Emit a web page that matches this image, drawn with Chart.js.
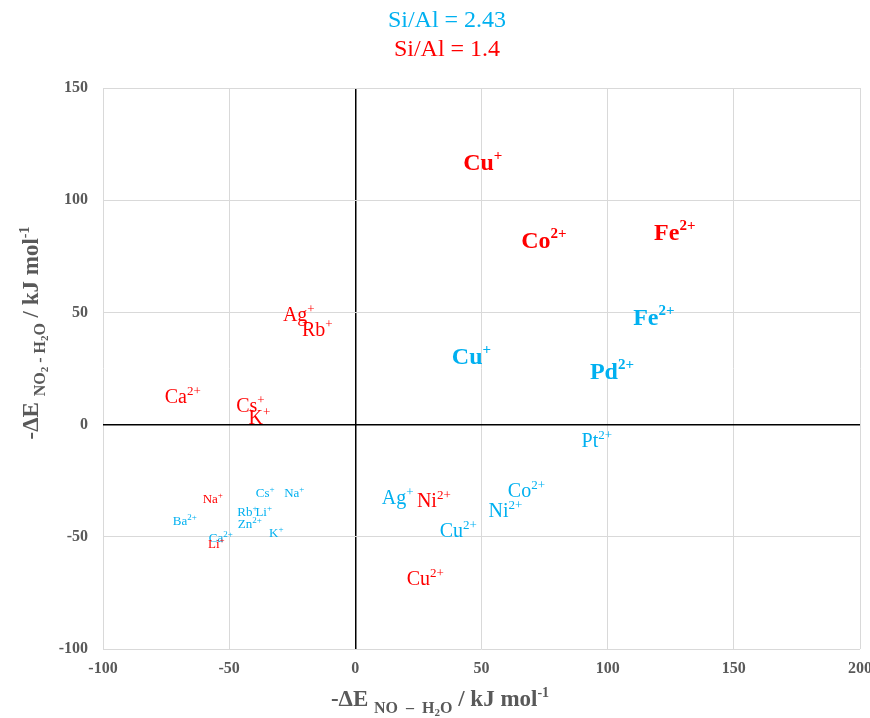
<!DOCTYPE html>
<html>
<head>
<meta charset="utf-8">
<script src="https://cdn.jsdelivr.net/npm/chart.js@4/dist/chart.umd.min.js"></script>
<style>
  html, body { margin: 0; padding: 0; background: #fff; }
  canvas { display: block; }
</style>
</head>
<body>
<canvas id="chart" width="870" height="718"></canvas>
<script>
/* ======================
   DATA
====================== */
// Si/Al = 1.4 (red)
const redIons   = ["Cu", "Co", "Fe", "Ag", "Rb", "Ca", "Cs", "K", "Na", "Li", "Ni", "Cu"];
const redCharge = ["+", "2+", "2+", "+", "+", "2+", "+", "+", "+", "+", "2+", "2+"];
const redX      = [50.5, 74.7, 126.6, -22.4, -15.1, -68.4, -41.6, -38, -56.5, -55.1, 31.1, 27.7];
const redY      = [116.8, 82.4, 85.6, 49.2, 42.6, 12.7, 8.7, 3.3, -33, -53, -33.9, -68.4];

// Si/Al = 2.43 (blue)
const blueIons   = ["Fe", "Cu", "Pd", "Pt", "Co", "Ni", "Ag", "Cu", "Cs", "Na", "Rb", "Li", "Zn", "K", "Ba", "Ca"];
const blueCharge = ["2+", "+", "2+", "2+", "2+", "2+", "+", "2+", "+", "+", "+", "+", "2+", "+", "2+", "2+"];
const blueX      = [118.3, 46, 101.7, 95.7, 67.8, 59.5, 16.8, 40.8, -35.7, -24.2, -42.8, -36.3, -41.8, -31.3, -67.6, -53.3];
const blueY      = [47.9, 30.7, 24, -7.1, -29.4, -38.3, -32.3, -47.2, -30.3, -30.3, -38.8, -38.8, -44.3, -48.1, -42.8, -50.4];

const xTicks = [-100, -50, 0, 50, 100, 150, 200];
const yTicks = [-100, -50, 0, 50, 100, 150];

/* ---------- label styles (kept apart from data) ---------- */
const redStyle  = ["bold", "bold", "bold", "mid", "mid", "mid", "mid", "mid", "small", "small", "mid", "mid"];
const blueStyle = ["bold", "bold", "bold", "mid", "mid", "mid", "mid", "mid",
                   "small", "small", "small", "small", "small", "small", "small", "small"];

const SERIF = '"Liberation Serif", "Times New Roman", serif';
const GRAY = "#595959";
const RED = "#ff0000";
const BLUE = "#00b0f0";

const STYLES = {
  bold:  { size: 24, sup: 15, rise: 10, weight: "bold" },
  mid:   { size: 20, sup: 13, rise: 8,  weight: "normal" },
  small: { size: 13, sup: 9,  rise: 5,  weight: "normal" }
};

/* ======================
   RICH TEXT HELPER
====================== */
// parts: [{t, size, dy, weight}] drawn on one baseline, centred at cx
function drawRich(ctx, parts, cx, baseY, color) {
  let total = 0;
  parts.forEach(p => {
    ctx.font = `${p.weight || "bold"} ${p.size}px ${SERIF}`;
    p.w = ctx.measureText(p.t).width;
    total += p.w;
  });
  let x = cx - total / 2;
  ctx.fillStyle = color;
  ctx.textBaseline = "alphabetic";
  ctx.textAlign = "left";
  parts.forEach(p => {
    ctx.font = `${p.weight || "bold"} ${p.size}px ${SERIF}`;
    ctx.fillText(p.t, x, baseY + (p.dy || 0));
    x += p.w;
  });
}

/* ======================
   PLUGINS
====================== */
const ionLabels = {
  id: "ionLabels",
  afterDatasetsDraw(chart) {
    const { ctx, scales: { x, y } } = chart;
    ctx.save();
    chart.data.datasets.forEach(ds => {
      ds.data.forEach((p, i) => {
        const st = STYLES[ds.styles[i]];
        const px = x.getPixelForValue(p.x);
        const py = y.getPixelForValue(p.y);
        drawRich(ctx, [
          { t: ds.ions[i], size: st.size, weight: st.weight },
          { t: ds.charges[i], size: st.sup, weight: st.weight, dy: -st.rise }
        ], px, py + st.size * 0.33, ds.textColor);
      });
    });
    ctx.restore();
  }
};

const titles = {
  id: "titles",
  afterDraw(chart) {
    const ctx = chart.ctx;
    ctx.save();
    ctx.textAlign = "center";
    ctx.textBaseline = "middle";
    ctx.font = `24px ${SERIF}`;
    ctx.fillStyle = BLUE;
    ctx.fillText("Si/Al = 2.43", 447, 21);
    ctx.fillStyle = RED;
    ctx.fillText("Si/Al = 1.4", 447, 50);

    // x axis title
    drawRich(ctx, [
      { t: "-ΔE ", size: 23 },
      { t: "NO  –  H", size: 16, dy: 7 },
      { t: "2", size: 11, dy: 10 },
      { t: "O", size: 16, dy: 7 },
      { t: " / kJ mol", size: 23 },
      { t: "-1", size: 14, dy: -9 }
    ], 440, 706, GRAY);

    // y axis title (rotated)
    ctx.translate(38, 333);
    ctx.rotate(-Math.PI / 2);
    drawRich(ctx, [
      { t: "-ΔE ", size: 23 },
      { t: "NO", size: 16, dy: 7 },
      { t: "2", size: 11, dy: 10 },
      { t: " - H", size: 16, dy: 7 },
      { t: "2", size: 11, dy: 10 },
      { t: "O", size: 16, dy: 7 },
      { t: " / kJ mol", size: 23 },
      { t: "-1", size: 14, dy: -9 }
    ], 0, 0, GRAY);
    ctx.restore();
  }
};

/* ======================
   CHART
====================== */
const toPoints = (xs, ys) => xs.map((v, i) => ({ x: v, y: ys[i] }));

const gridColor = c => (c.tick && c.tick.value === 0 ? "#000000" : "#d9d9d9");
const gridWidth = c => (c.tick && c.tick.value === 0 ? 1.5 : 1);
const tickFont = { family: SERIF, size: 16, weight: "bold" };

new Chart(document.getElementById("chart"), {
  type: "scatter",
  data: {
    datasets: [
      {
        label: "Si/Al = 2.43",
        data: toPoints(blueX, blueY),
        ions: blueIons, charges: blueCharge, styles: blueStyle,
        textColor: BLUE,
        pointRadius: 0
      },
      {
        label: "Si/Al = 1.4",
        data: toPoints(redX, redY),
        ions: redIons, charges: redCharge, styles: redStyle,
        textColor: RED,
        pointRadius: 0
      }
    ]
  },
  options: {
    responsive: false,
    animation: false,
    events: [],
    layout: { padding: { top: 88, right: 10, left: 0, bottom: 0 } },
    plugins: { legend: { display: false }, title: { display: false }, tooltip: { enabled: false } },
    scales: {
      x: {
        type: "linear",
        min: xTicks[0],
        max: xTicks[xTicks.length - 1],
        afterBuildTicks: s => { s.ticks = xTicks.map(v => ({ value: v })); },
        ticks: { padding: 10, color: GRAY, font: tickFont, maxRotation: 0 },
        grid: { color: gridColor, lineWidth: gridWidth, drawTicks: false },
        border: { display: false },
        afterFit: s => { s.height = 69; s.paddingLeft = 0; s.paddingRight = 0; }
      },
      y: {
        type: "linear",
        min: yTicks[0],
        max: yTicks[yTicks.length - 1],
        afterBuildTicks: s => { s.ticks = yTicks.map(v => ({ value: v })); },
        ticks: { padding: 15, color: GRAY, font: tickFont },
        grid: { color: gridColor, lineWidth: gridWidth, drawTicks: false },
        border: { display: false },
        afterFit: s => { s.width = 103; s.paddingTop = 0; s.paddingBottom = 0; }
      }
    }
  },
  plugins: [ionLabels, titles]
});
</script>
</body>
</html>
